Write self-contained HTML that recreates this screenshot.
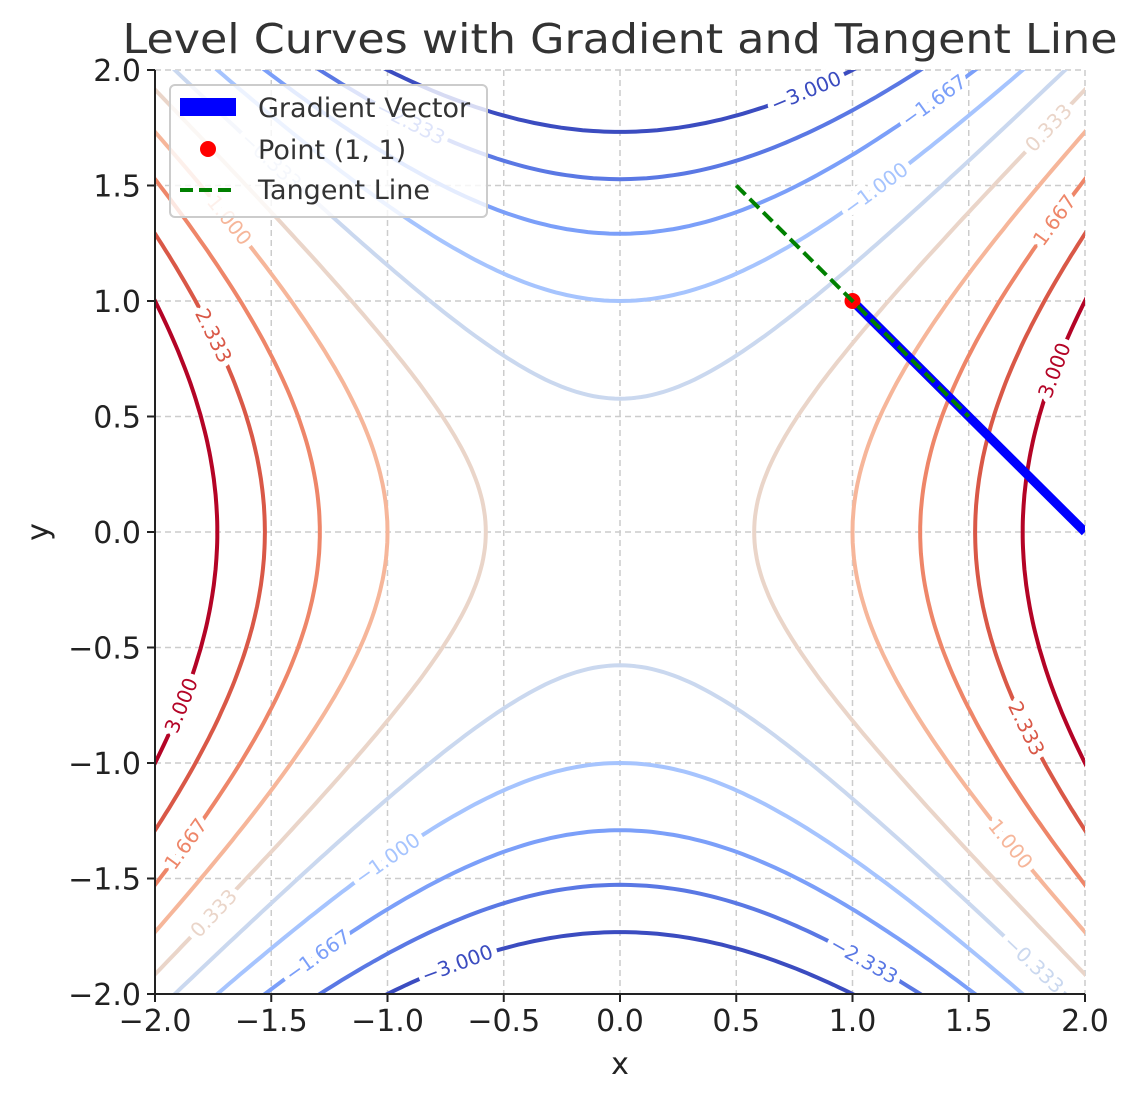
<!DOCTYPE html>
<html><head><meta charset="utf-8">
<style>
html,body{margin:0;padding:0;background:#fff;overflow:hidden;width:1139px;height:1101px;}
svg{display:block;font-family:"DejaVu Sans","Liberation Sans",sans-serif;}
</style></head>
<body>
<svg id="chart" width="1139" height="1101" viewBox="0 0 1139 1101" xmlns="http://www.w3.org/2000/svg">
<text x="620" y="53" font-size="41" text-anchor="middle" fill="#333" textLength="995" lengthAdjust="spacingAndGlyphs">Level Curves with Gradient and Tangent Line</text>
<defs><clipPath id="clip"><rect x="155" y="70" width="930" height="924"/></clipPath></defs>
<g id="grid"></g>
<g id="contours" clip-path="url(#clip)"></g>
<g id="labels"></g>
<g id="overlay" clip-path="url(#clip)"></g>
<g id="axes"></g>
<text x="620" y="1074" font-size="30" text-anchor="middle" fill="#222">x</text>
<text x="48" y="532" font-size="30" text-anchor="middle" fill="#222" transform="rotate(-90 48 532)">y</text>
<g>
<rect x="170" y="85" width="317" height="132" rx="5" fill="#fff" fill-opacity="0.8" stroke="#ccc" stroke-width="2"/>
<rect x="180" y="98" width="56" height="18" fill="#0000ff"/>
<text x="258" y="117" font-size="27" fill="#333">Gradient Vector</text>
<circle cx="208" cy="149" r="8" fill="#ff0000"/>
<text x="258" y="159" font-size="27" fill="#333">Point (1, 1)</text>
<line x1="180" y1="190" x2="236" y2="190" stroke="#008000" stroke-width="4" stroke-dasharray="13,6"/>
<text x="258" y="199" font-size="27" fill="#333">Tangent Line</text>
</g>
</svg>
<script>
const levels = [-3, -2.333, -1.667, -1, -0.333, 0.333, 1, 1.667, 2.333, 3];
const levelColors = ["#3b4cc0","#5a78e4","#7b9ff9","#a6c4fe","#cad8ef","#ead5c9","#f6b69a","#ee8669","#d95847","#b40426"];
const xTicks = [-2, -1.5, -1, -0.5, 0, 0.5, 1, 1.5, 2];
const yTicks = [-2, -1.5, -1, -0.5, 0, 0.5, 1, 1.5, 2];
const pointXY = [1, 1];
const gradientEnd = [2, 0];
const tangentStart = [0.5, 1.5];
const tangentEnd = [1.5, 0.5];
const labelSpecs = [[0,1,0.8],[0,-1,-0.7],[1,1,-0.9],[1,-1,1.05],[2,1,1.35],[2,-1,-1.3],[3,1,1.1],[3,-1,-1.0],[4,1,-1.5],[4,-1,1.78],
[5,1,1.75],[5,-1,-1.65],[6,-1,1.35],[6,1,-1.35],[7,1,1.35],[7,-1,-1.35],[8,-1,0.85],[8,1,-0.85],[9,1,0.7],[9,-1,-0.75]];

const NS="http://www.w3.org/2000/svg";
const sx=v=>155+(v+2)*232.5, sy=v=>994-(v+2)*231;
function mk(tag,attrs,parent){const e=document.createElementNS(NS,tag);for(const k in attrs)e.setAttribute(k,attrs[k]);parent.appendChild(e);return e;}
const grid=document.getElementById('grid'),axes=document.getElementById('axes');
xTicks.forEach(t=>{
  const g=mk('line',{x1:sx(t),x2:sx(t),y1:70,y2:994,stroke:'#ccc','stroke-width':1.5,'stroke-dasharray':'6,4'},grid);
  
  const tk=mk('line',{x1:sx(t),x2:sx(t),y1:994,y2:1002,stroke:'#222','stroke-width':2},axes);
  
  const tx=mk('text',{x:sx(t),y:1031,'font-size':30,'text-anchor':'middle',fill:'#222'},axes);
  tx.textContent=t.toFixed(1).replace('-','\u2212');
  
});
yTicks.forEach(t=>{
  const g=mk('line',{x1:155,x2:1085,y1:sy(t),y2:sy(t),stroke:'#ccc','stroke-width':1.5,'stroke-dasharray':'6,4'},grid);
  
  const tk=mk('line',{x1:147,x2:155,y1:sy(t),y2:sy(t),stroke:'#222','stroke-width':2},axes);
  
  const tx=mk('text',{x:141,y:sy(t)+11,'font-size':30,'text-anchor':'end',fill:'#222'},axes);
  tx.textContent=t.toFixed(1).replace('-','\u2212');
  
});
const ax1=mk('line',{x1:155,x2:155,y1:70,y2:995,stroke:'#222','stroke-width':2},axes);

const ax2=mk('line',{x1:154,x2:1085,y1:994,y2:994,stroke:'#222','stroke-width':2},axes);


function curvePt(c,s,p){ if(c<0) return [p, s*Math.sqrt(p*p-c)]; return [s*Math.sqrt(c+p*p), p]; }
const cont=document.getElementById('contours');
levels.forEach((c,i)=>{
  [1,-1].forEach(s=>{
    let d='';
    for(let k=0;k<=200;k++){const p=-2.3+4.6*k/200;const [x,y]=curvePt(c,s,p);d+=(k?'L':'M')+sx(x).toFixed(1)+','+sy(y).toFixed(1);}
    const pa=mk('path',{d:d,fill:'none',stroke:levelColors[i],'stroke-width':4},cont);
    
  });
});
const lab=document.getElementById('labels');
labelSpecs.forEach(([i,s,p])=>{
  const c=levels[i];
  const [x,y]=curvePt(c,s,p);const [x2,y2]=curvePt(c,s,p+0.01);
  let ang=Math.atan2(sy(y2)-sy(y),sx(x2)-sx(x))*180/Math.PI;
  if(ang>90)ang-=180; if(ang<-90)ang+=180;
  const px=sx(x),py=sy(y);
  const t=mk('text',{x:px,y:py+7,'font-size':20,'text-anchor':'middle',fill:levelColors[i],stroke:'#fff','stroke-width':12,'paint-order':'stroke','stroke-linejoin':'round',transform:`rotate(${ang.toFixed(1)} ${px} ${py})`},lab);
  t.textContent=c.toFixed(3).replace('-','\u2212');
  
});
const ov=document.getElementById('overlay');
const gv=mk('line',{x1:sx(pointXY[0]),y1:sy(pointXY[1]),x2:sx(gradientEnd[0]),y2:sy(gradientEnd[1]),stroke:'#0000ff','stroke-width':9},ov);

const pt=mk('circle',{cx:sx(pointXY[0]),cy:sy(pointXY[1]),r:8,fill:'#ff0000'},ov);

const tl=mk('line',{x1:sx(tangentStart[0]),y1:sy(tangentStart[1]),x2:sx(tangentEnd[0]),y2:sy(tangentEnd[1]),stroke:'#008000','stroke-width':4,'stroke-dasharray':'13,6'},ov);

</script>
</body></html>
